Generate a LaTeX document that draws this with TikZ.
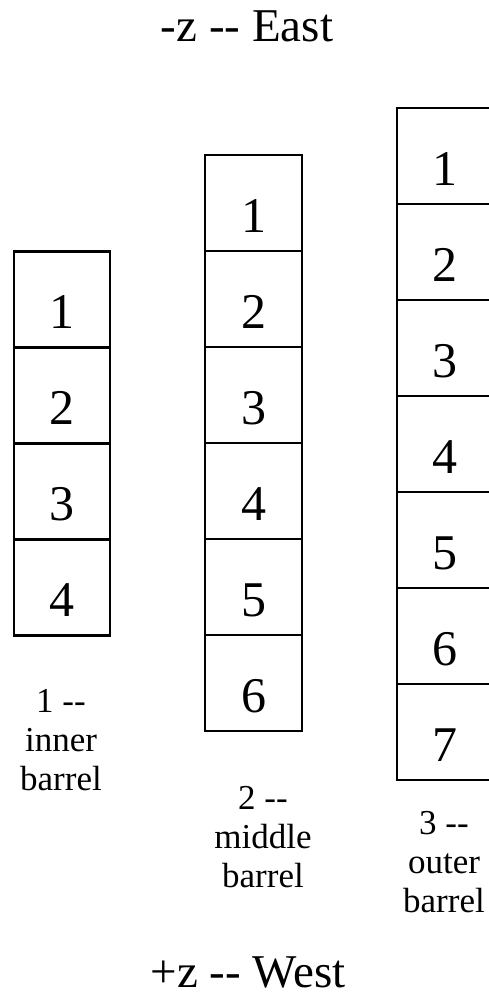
\documentclass[tikz,border=0pt]{standalone}
\usepackage{fontspec}
\newfontfamily\tf{Liberation Serif}
\tikzset{
  cell/.style={draw=black, line width=2.2pt, inner sep=0pt, minimum width=96.5pt,
    text height=77pt, text depth=19pt, font=\tf\fontsize{50}{54}\selectfont},
  lab/.style={inner sep=0pt, align=center, font=\tf\fontsize{35}{39}\selectfont},
  ttl/.style={inner sep=0pt, anchor=base, font=\tf\fontsize{47}{51}\selectfont}
}
\begin{document}
\begin{tikzpicture}[x=1pt,y=1pt]
\useasboundingbox (0,0) rectangle (489,-1006);
\clip (0,0) rectangle (489,-1006);
% titles
\node[ttl] (east) at (247,-42) {-z -{}- East};
\node[ttl] (west) at (248,-987) {+z -{}- West};
% inner barrel
\foreach \k in {1,...,4} {
  \node[cell] (i\k) at (62,{-251.5-48-96*(\k-1)}) {\k};
}
% middle barrel
\foreach \k in {1,...,6} {
  \node[cell] (m\k) at (253.5,{-155-48-96*(\k-1)}) {\k};
}
% outer barrel
\foreach \k in {1,...,7} {
  \node[cell] (o\k) at (445.25,{-108-48-96*(\k-1)}) {\k};
}
% labels
\node[lab] (li) at (61,-740.5) {1 -{}-\\inner\\barrel};
\node[lab] (lm) at (263,-837.5) {2 -{}-\\middle\\barrel};
\node[lab] (lo) at (444,-862.5) {3 -{}-\\outer\\barrel};
\end{tikzpicture}
\end{document}
